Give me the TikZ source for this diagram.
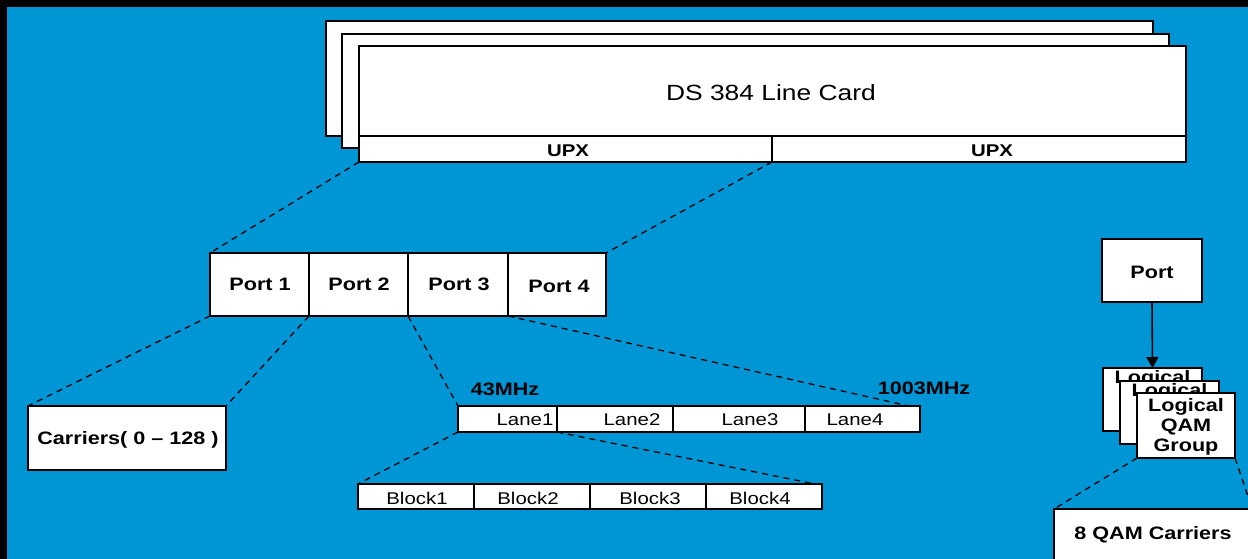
\documentclass[tikz,border=0pt]{standalone}
\usepackage{fontspec}
\setmainfont{Liberation Sans}[FakeStretch=1.2]
\usetikzlibrary{arrows.meta}
\definecolor{bgblue}{RGB}{0,150,214}
\begin{document}
\begin{tikzpicture}[x=1pt,y=-1pt,
  box/.style={draw=black, fill=white, line width=1.5pt, inner sep=0pt, outer sep=0pt},
  lbl/.style={inner sep=0pt, outer sep=0pt, text=black},
  titlefont/.style={font=\fontsize{22}{24}\selectfont},
  bigbold/.style={font=\fontsize{18}{20}\selectfont\bfseries},
  midbold/.style={font=\fontsize{17}{19}\selectfont\bfseries},
  smallreg/.style={font=\fontsize{17}{19}\selectfont},
  dashline/.style={draw=black, line width=1.3pt, dash pattern=on 6pt off 5pt},
  arrowline/.style={draw=black, line width=1.6pt, -{Triangle[length=11pt,width=12pt]}}
]
\useasboundingbox (0,0) rectangle (1248,559);
\clip (0,0) rectangle (1248,559);
\fill[black] (0,0) rectangle (1248,559);
\fill[bgblue] (7,7) rectangle (1260,570);

% line cards
\node[box, minimum width=827pt, minimum height=115pt] (card3) at (739.5,78.5) {};
\node[box, minimum width=827pt, minimum height=114pt] (card2) at (755.5,91) {};
\node[box, minimum width=827pt, minimum height=116pt] (card1) at (772.5,104) {};
\node[lbl, titlefont] (title) at (771,93) {DS 384 Line Card};
\node[box, minimum width=413pt, minimum height=26pt] (upx1) at (565.5,149) {};
\node[box, minimum width=414pt, minimum height=26pt] (upx2) at (979,149) {};
\node[lbl, midbold] (upxt1) at (568,151) {UPX};
\node[lbl, midbold] (upxt2) at (992,151) {UPX};

% ports
\node[box, minimum width=99pt, minimum height=63pt] (p1) at (259.5,284.5) {};
\node[box, minimum width=99pt, minimum height=63pt] (p2) at (358.5,284.5) {};
\node[box, minimum width=100pt, minimum height=63pt] (p3) at (458,284.5) {};
\node[box, minimum width=98pt, minimum height=63pt] (p4) at (557,284.5) {};
\node[lbl, bigbold] (pt1) at (260,284) {Port 1};
\node[lbl, bigbold] (pt2) at (359,284) {Port 2};
\node[lbl, bigbold] (pt3) at (459,284) {Port 3};
\node[lbl, bigbold] (pt4) at (559,286) {Port 4};

\draw[dashline] (upx1.south west) -- (p1.north west);
\draw[dashline] (upx1.south east) -- (p4.north east);

% carriers
\node[box, minimum width=198pt, minimum height=64pt] (carr) at (127,438) {};
\node[lbl, bigbold] (carrt) at (128,439.5) {Carriers( 0 – 128 )};
\draw[dashline] (p1.south west) -- (carr.north west);
\draw[dashline] (p2.south west) -- (carr.north east);

% lanes
\node[box, minimum width=99pt, minimum height=26pt] (l1) at (507.5,419) {};
\node[box, minimum width=116pt, minimum height=26pt] (l2) at (615,419) {};
\node[box, minimum width=132pt, minimum height=26pt] (l3) at (739,419) {};
\node[box, minimum width=115pt, minimum height=26pt] (l4) at (862.5,419) {};
\node[lbl, smallreg] (lt1) at (525,420) {Lane1};
\node[lbl, smallreg] (lt2) at (632,420) {Lane2};
\node[lbl, smallreg] (lt3) at (750,420) {Lane3};
\node[lbl, smallreg] (lt4) at (855,420) {Lane4};
\node[lbl, bigbold] (f43) at (505,389) {43MHz};
\node[lbl, bigbold] (f1003) at (924,388) {1003MHz};
\coordinate (l4end) at (909,406);
\draw[dashline] (p3.south west) -- (l1.north west);
\draw[dashline] (p4.south west) -- (l4end);

% blocks
\node[box, minimum width=116pt, minimum height=25pt] (b1) at (416,496.5) {};
\node[box, minimum width=116pt, minimum height=25pt] (b2) at (532,496.5) {};
\node[box, minimum width=116pt, minimum height=25pt] (b3) at (648,496.5) {};
\node[box, minimum width=116pt, minimum height=25pt] (b4) at (764,496.5) {};
\node[lbl, smallreg] (bt1) at (417,498) {Block1};
\node[lbl, smallreg] (bt2) at (528,498) {Block2};
\node[lbl, smallreg] (bt3) at (650,498) {Block3};
\node[lbl, smallreg] (bt4) at (760,498) {Block4};
\coordinate (b4end) at (815,484);
\draw[dashline] (l1.south west) -- (b1.north west);
\draw[dashline] (l1.south east) -- (b4end);

% right side
\node[box, minimum width=100pt, minimum height=63pt] (portr) at (1152,270.5) {};
\node[lbl, bigbold] (portrt) at (1152,272) {Port};
\node[box, minimum width=99pt, minimum height=63pt] (lq3) at (1152.5,399.5) {};
\node[lbl, bigbold, anchor=north] (lq3t) at (1152.5,370) {Logical};
\node[box, minimum width=99pt, minimum height=63pt] (lq2) at (1169.5,412.5) {};
\node[lbl, bigbold, anchor=north] (lq2t) at (1169.5,383) {Logical};
\node[box, minimum width=98pt, minimum height=65pt] (lq1) at (1186,425.5) {};
\node[lbl, bigbold, align=center] (lq1t) at (1186,427) {Logical\\QAM\\Group};
\draw[arrowline] (portr.south) -- (lq3.north);

\node[box, minimum width=216pt, minimum height=66pt] (qam8) at (1162,542) {};
\node[lbl, bigbold] (qam8t) at (1153,535) {8 QAM Carriers};
\coordinate (offedge) at (1254,514);
\draw[dashline] (lq1.south west) -- (qam8.north west);
\draw[dashline] (lq1.south east) -- (offedge);
\end{tikzpicture}
\end{document}
